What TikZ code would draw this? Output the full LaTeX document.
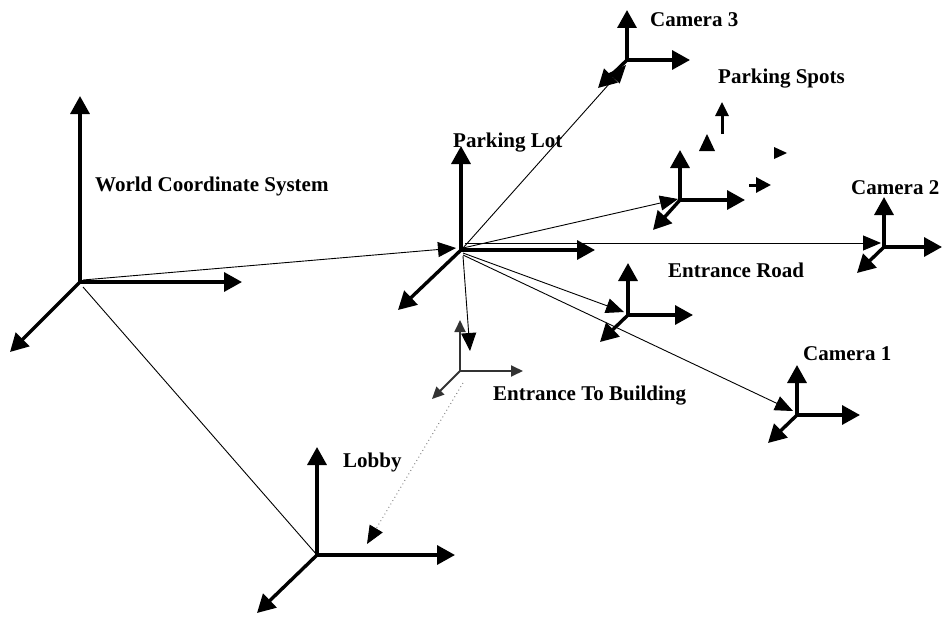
\documentclass[tikz,border=0pt]{standalone}
\usepackage{fontspec}
\setmainfont{Liberation Serif}
\usetikzlibrary{arrows.meta}
\begin{document}
\begin{tikzpicture}[x=1pt,y=-1pt,
  axis/.style={line width=3.4pt,-{Triangle[length=18pt,width=19pt]}},
  smallaxis/.style={line width=1.8pt,black!80,-{Triangle[length=12pt,width=11pt]}},
  link/.style={line width=0.9pt,-{Triangle[length=18pt,width=15pt]}},
  plainlink/.style={line width=0.9pt},
  dotlink/.style={line width=0.9pt,draw=black!55,dash pattern=on 0.9pt off 3pt,
    -{Triangle[length=18pt,width=15pt,fill=black,color=black]}},
  tag/.style={anchor=base west,inner sep=0pt,font=\fontsize{21}{25}\selectfont\bfseries}]
\useasboundingbox (0,0) rectangle (943,618);

% frame origins and axis ends
\coordinate (W)  at (80,282);  \coordinate (Wu) at (80,96);   \coordinate (Wr) at (242,282); \coordinate (Wd) at (10,352);
\coordinate (P)  at (461,250); \coordinate (Pu) at (461,146); \coordinate (Pr) at (595,250); \coordinate (Pd) at (398,310);
\coordinate (C3) at (627,60);  \coordinate (C3u) at (627,10); \coordinate (C3r) at (690,60); \coordinate (C3d) at (598,88);
\coordinate (S)  at (680,200); \coordinate (Su) at (680,150); \coordinate (Sr) at (745,200); \coordinate (Sd) at (653,230);
\coordinate (C2) at (884,247); \coordinate (C2u) at (884,197); \coordinate (C2r) at (942,247); \coordinate (C2d) at (857,273);
\coordinate (R)  at (628,315); \coordinate (Ru) at (628,263); \coordinate (Rr) at (693,315); \coordinate (Rd) at (600,342);
\coordinate (C1) at (797,415); \coordinate (C1u) at (797,365); \coordinate (C1r) at (860,415); \coordinate (C1d) at (768,443);
\coordinate (B)  at (460,371); \coordinate (Bu) at (460,320); \coordinate (Br) at (523,371); \coordinate (Bd) at (432,399);
\coordinate (L)  at (317,555); \coordinate (Lu) at (317,447); \coordinate (Lr) at (455,555); \coordinate (Ld) at (257,613);

% axes of each frame
\foreach \f in {W,P,C3,S,C2,R,C1,L}{
  \draw[axis] (\f) -- (\f u);
  \draw[axis] (\f) -- (\f r);
  \draw[axis] (\f) -- (\f d);
}
\draw[smallaxis] (B) -- (Bu);
\draw[smallaxis] (B) -- (Br);
\draw[smallaxis] (B) -- (Bd);

% parking spot fragments
\coordinate (sp1a) at (722,134); \coordinate (sp1b) at (722,102);
\coordinate (sp4a) at (749,185); \coordinate (sp4b) at (771,185);
\draw[line width=3pt,-{Triangle[length=14pt,width=13pt]}] (sp1a) -- (sp1b);
\draw[line width=3pt,-{Triangle[length=15pt,width=15pt]}] (sp4a) -- (sp4b);
\fill (699,151) -- (715,151) -- (707,134) -- cycle;
\fill (774,147) -- (787,153) -- (774,159) -- cycle;

% link ends
\coordinate (W0) at (83,280);  \coordinate (Pin) at (456,248);
\coordinate (P1) at (463,248); \coordinate (C3in) at (626,65);
\coordinate (Sin) at (678,199);
\coordinate (P2) at (465,243); \coordinate (C2in) at (881,243);
\coordinate (P3) at (463,253); \coordinate (Rin) at (624,312);
\coordinate (P4) at (463,255); \coordinate (C1in) at (793,411);
\coordinate (P5) at (463,256); \coordinate (Bin) at (470,351);
\coordinate (W1) at (83,287);
\coordinate (B0) at (463,383); \coordinate (Lin) at (367,544);

% transformations between frames
\draw[link] (W0) -- (Pin);
\draw[link] (P1) -- (C3in);
\draw[link] (P1) -- (Sin);
\draw[link] (P2) -- (C2in);
\draw[link] (P3) -- (Rin);
\draw[link] (P4) -- (C1in);
\draw[link] (P5) -- (Bin);
\draw[plainlink] (W1) -- (L);
\draw[dotlink] (B0) -- (Lin);

% frame names
\node[tag] (tW)  at (95,191)  {World Coordinate System};
\node[tag] (tP)  at (453,147) {Parking Lot};
\node[tag] (tC3) at (650,27)  {Camera 3};
\node[tag] (tS)  at (718,84)  {Parking Spots};
\node[tag] (tC2) at (851,194) {Camera 2};
\node[tag] (tR)  at (668,277) {Entrance Road};
\node[tag] (tC1) at (803,360) {Camera 1};
\node[tag] (tB)  at (493,400) {Entrance To Building};
\node[tag] (tL)  at (343,467) {Lobby};
\end{tikzpicture}
\end{document}
